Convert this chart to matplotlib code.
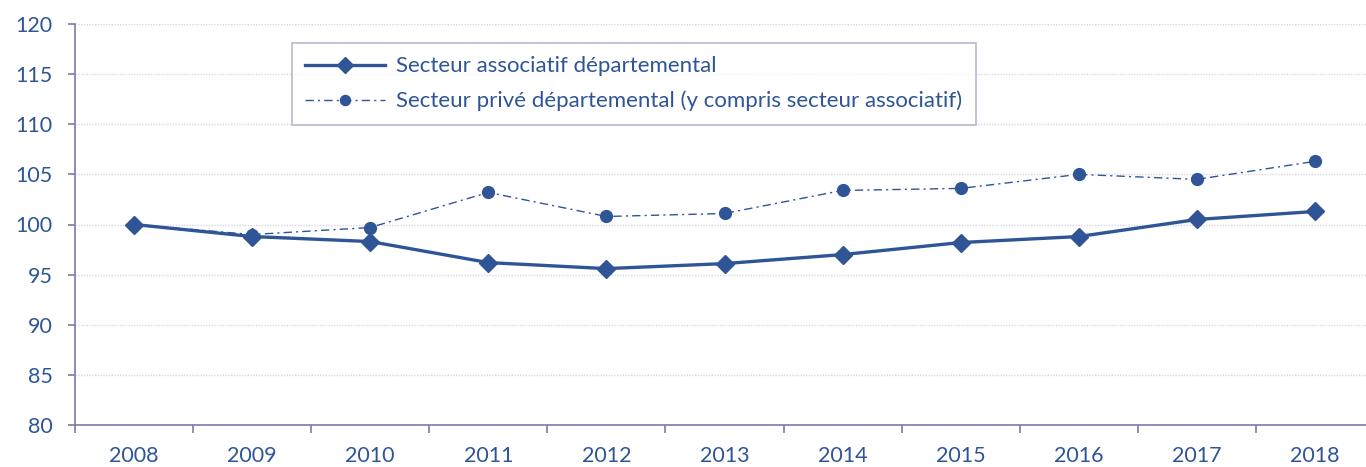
import matplotlib
matplotlib.use("Agg")
import matplotlib.pyplot as plt
import numpy as np

years = ["2008", "2009", "2010", "2011", "2012", "2013", "2014", "2015", "2016", "2017", "2018"]
associatif = [100.0, 98.8, 98.3, 96.2, 95.6, 96.1, 97.0, 98.2, 98.8, 100.5, 101.3]
prive = [100.0, 99.0, 99.7, 103.2, 100.8, 101.1, 103.4, 103.6, 105.0, 104.5, 106.3]
label_assoc = "Secteur associatif départemental"
label_prive = "Secteur privé départemental (y compris secteur associatif)"
y_ticks = [80, 85, 90, 95, 100, 105, 110, 115, 120]

plt.rcParams['font.family'] = ['Lato', 'DejaVu Sans']
blue = "#2F5597"
axis_col = "#7C7CAA"
text_col = "#2F5597"

fig = plt.figure(figsize=(13.66, 4.67), dpi=100)
W, H = 1366, 467
left, right = 75, 1374
top, bottom = 24, 425
ax = fig.add_axes([left / W, 1 - bottom / H, (right - left) / W, (bottom - top) / H])

x = np.arange(len(years))
ax.plot(x, prive, color=blue, lw=1.0, ls=(0, (6, 3, 1.5, 3)), marker='o', ms=8.5,
        label=label_prive, zorder=3)
ax.plot(x, associatif, color=blue, lw=2.4, ls='-', marker='D', ms=9.5,
        label=label_assoc, zorder=4)

ax.set_xlim(-0.5, len(years) - 0.5)
ax.set_ylim(80, 120)
ax.set_yticks(y_ticks)
ax.set_yticklabels([str(v) for v in y_ticks])
ax.set_xticks(x)
ax.set_xticklabels(years)
ax.set_xticks(np.arange(-0.5, len(years)), minor=True)

for s in ['top', 'right']:
    ax.spines[s].set_visible(False)
for s in ['left', 'bottom']:
    ax.spines[s].set_color(axis_col)
    ax.spines[s].set_linewidth(1.2)

ax.tick_params(axis='y', which='major', length=5, width=1.2, color=axis_col,
               labelcolor=text_col, labelsize=15.5, pad=11)
ax.tick_params(axis='x', which='major', length=0, labelcolor=text_col, labelsize=15.5, pad=15)
ax.tick_params(axis='x', which='minor', length=6, width=1.2, color=axis_col, direction='out')

ax.grid(axis='y', color='#D8D8EA', ls=(0, (1, 1)), lw=1.0)
ax.set_axisbelow(True)

handles, labels = ax.get_legend_handles_labels()
leg = ax.legend(handles[::-1], labels[::-1], loc='upper left',
                bbox_to_anchor=((292 - left) / (right - left), 1 - (43 - top) / (bottom - top)),
                frameon=True, fancybox=False, fontsize=16, labelcolor=text_col,
                handlelength=3.6, handletextpad=0.5, borderpad=0.6, labelspacing=0.65,
                borderaxespad=0, markerscale=0.85)
leg.get_frame().set_edgecolor('#A6A6C8')
leg.get_frame().set_linewidth(1.2)

fig.savefig("out.png", dpi=100)
